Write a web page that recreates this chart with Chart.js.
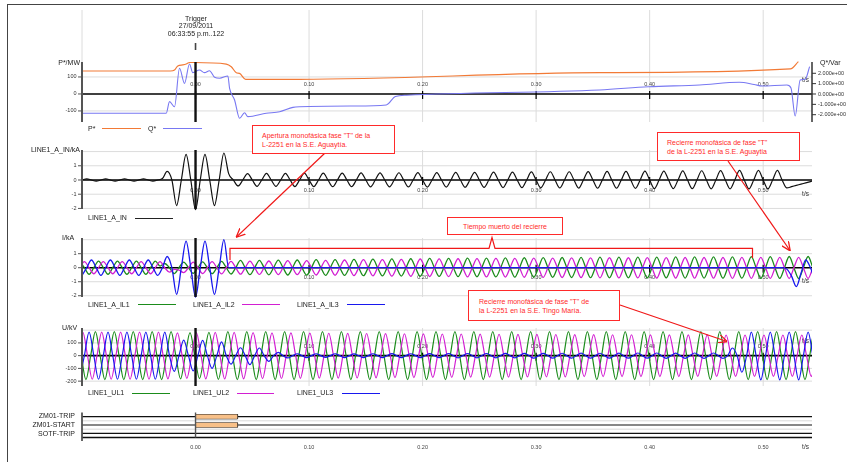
<!DOCTYPE html>
<html><head><meta charset="utf-8">
<script src="https://cdn.jsdelivr.net/npm/chart.js@4.4.1/dist/chart.umd.min.js"></script>
<style>
html,body{margin:0;padding:0;background:#fff;}
#wrap{position:relative;width:847px;height:462px;overflow:hidden;font-family:"Liberation Sans",Arial,sans-serif;background:#fff;}
#c{position:absolute;left:0;top:0;}
.t{position:absolute;white-space:nowrap;line-height:1;color:#222;}
.lg{position:absolute;height:0;}
.box{position:absolute;background:#fff;border:1px solid #ff2a2a;color:#ff2a2a;font-size:7px;line-height:9.4px;box-sizing:border-box;white-space:nowrap;}
#frame{position:absolute;left:7px;top:4px;width:900px;height:500px;border-left:1.5px solid #444;border-top:1.5px solid #444;}
svg{position:absolute;left:0;top:0;}
</style></head><body>
<div id="wrap"><div id="frame"></div><canvas id="c" width="847" height="462"></canvas>
<svg width="847" height="462" viewBox="0 0 847 462">
<defs><marker id="ah" viewBox="0 0 10 10" refX="9.5" refY="5" markerWidth="9" markerHeight="9" orient="auto" markerUnits="userSpaceOnUse"><path d="M0,0.5 L10,5 L0,9.5" fill="none" stroke="#f01818" stroke-width="1.4"/></marker></defs>
<line x1="325" y1="153" x2="236.5" y2="237" stroke="#f01818" stroke-width="1.2" marker-end="url(#ah)"/>
<line x1="728" y1="161" x2="790" y2="250.5" stroke="#f01818" stroke-width="1.2" marker-end="url(#ah)"/>
<line x1="620" y1="305" x2="727" y2="341.5" stroke="#f01818" stroke-width="1.2" marker-end="url(#ah)"/>
<polyline points="230,260 230,248.3 489,248.3 492,237.5 495,248.3 752.5,248.3 752.5,258" fill="none" stroke="#f01818" stroke-width="1.2"/>
</svg>
</div>
<script>
// ---------------- DATA ----------------
// time axis
const TIME_GRID = [-0.1, 0, 0.1, 0.2, 0.3, 0.4, 0.5];
const TIME_TICKS = [0, 0.1, 0.2, 0.3, 0.4, 0.5];
const TIME_LABELS = ['0.00','0.10','0.20','0.30','0.40','0.50'];

// P* (MW) and Q* (x1e8 Var) trend points
const P_T = [-0.1,-0.022,-0.0185,-0.0156,-0.0112,-0.0082,-0.0053,-0.0009,0.0271,0.0315,0.0359,0.0388,0.0441,0.0917,0.356,0.524,0.531];
const P_MW = [135,135,141,165,171,176,185,185,176,160,125,121,86,86,125,147,190];
const Q_T = [-0.1,-0.0258,-0.0229,-0.0185,-0.0141,-0.0097,-0.0053,-0.0024,0.0035,0.0079,0.0123,0.0168,0.0212,0.0285,0.03,0.0344,0.0388,0.0432,0.0461,0.0623,0.0741,0.0858,0.0917,0.14,0.168,0.176,0.186,0.356,0.399,0.444,0.479,0.492,0.499,0.5209,0.5245,0.5282,0.5326,0.537,0.5409];
const Q_V = [-1.86,-1.86,-0.74,-1.23,2.48,1.03,2.9,2.06,2.32,2.06,2.25,1.61,1.52,1.74,0.55,-0.58,-2.35,-1.81,-2.19,-1.86,-1.71,-1.29,-1.23,-1.16,-1.06,-0.25,-0.12,0.39,0.7,0.87,1.13,0.92,0.77,0.87,0.58,-2.13,1.35,1.42,2.64];

// waveform samples, one every quarter cycle of 60 Hz
const SAMPLE_STEP = 1/240;
const T0_A = -0.1;              // LINE1_A_IN, LINE1_A_IL3
const T0_B = -0.1 - 0.5/240;    // LINE1_A_IL1, LINE1_A_IL2, LINE1_UL3
const T0_D = -0.1 - (1/6)/240;  // LINE1_UL1
const T0_E = -0.1 - (5/6)/240;  // LINE1_UL2

const IN_KA = [0,.08,0,-.08,0,.08,0,-.08,0,.08,0,-.08,0,.08,0,-.08,
0,.1,.6,0,-1.8,0,1.8,0,-2.1,0,1.8,0,-1.8,0,1.9,.45,
0,-.42,0,.45,0,-.45,0,.47,0,-.45,0,.47,0,-.46,0,.48,
0,-.46,0,.48,0,-.47,0,.49,0,-.47,0,.5,0,-.48,0,.5,
0,-.48,0,.51,0,-.49,0,.52,0,-.5,0,.52,0,-.5,0,.53,
0,-.51,0,.54,0,-.52,0,.55,0,-.53,0,.56,0,-.54,0,.57,
0,-.55,0,.58,0,-.56,0,.58,0,-.57,0,.59,0,-.58,0,.6,
0,-.58,0,.61,0,-.59,0,.62,0,-.6,0,.63,0,-.6,0,.64,
0,-.61,0,.65,0,-.62,0,.66,0,-.62,0,.67,0,-.63,0,.68,
0,-.63,0,.68,0,-.56,-.47,-.38,-.29,-.2,-.11,-.02,.05];

const IL1_KA = [.47,0,-.47,0,.47,0,-.47,0,.47,0,-.47,0,.47,0,-.47,0,
.47,.12,.3,0,-.42,0,.4,0,-.4,0,.42,0,-.42,0,.45,0,
-.45,0,.52,0,-.5,0,.53,0,-.51,0,.54,0,-.52,0,.55,0,
-.53,0,.57,0,-.54,0,.58,0,-.55,0,.6,0,-.57,0,.61,0,
-.58,0,.63,0,-.6,0,.64,0,-.61,0,.66,0,-.62,0,.67,0,
-.64,0,.68,0,-.65,0,.69,0,-.66,0,.7,0,-.67,0,.71,0,
-.68,0,.72,0,-.69,0,.73,0,-.7,0,.74,0,-.71,0,.75,0,
-.72,0,.75,0,-.72,0,.76,0,-.73,0,.76,0,-.73,0,.77,0,
-.74,0,.77,0,-.74,0,.78,0,-.75,0,.78,0,-.75,0,.79,0,
-.76,0,.79,0,-.76,0,.8,0,-.77,0,.8,0,-.77,0];

const IL2_KA = [0,.43,0,-.43,0,.43,0,-.43,0,.43,0,-.43,0,.43,0,-.43,
0,.43,0,-.32,-.12,-.18,-.35,0,.4,0,-.42,0,.43,0,-.44,0,
.45,0,-.46,0,.47,0,-.48,0,.48,0,-.49,0,.5,0,-.5,0,
.51,0,-.52,0,.53,0,-.54,0,.55,0,-.56,0,.57,0,-.58,0,
.58,0,-.6,0,.6,0,-.61,0,.62,0,-.63,0,.63,0,-.64,0,
.64,0,-.65,0,.65,0,-.66,0,.66,0,-.67,0,.67,0,-.68,0,
.68,0,-.69,0,.69,0,-.7,0,.7,0,-.71,0,.7,0,-.72,0,
.71,0,-.73,0,.71,0,-.73,0,.72,0,-.74,0,.72,0,-.74,0,
.73,0,-.75,0,.73,0,-.75,0,.73,0,-.76,0,.74,0,-.76,0,
.74,0,-.76,0,.74,0,-.77,0,.74,0,-.77,0,.74,0];

const IL3_KA = [-.55,0,.55,0,-.55,0,.55,0,-.55,0,.55,0,-.55,0,.55,0,
-.55,0,.8,0,-1.9,0,1.9,0,-2.1,0,1.9,0,-1.9,0,2,0,
0,0,0,0,0,0,0,0,0,0,0,0,0,0,0,0,
0,0,0,0,0,0,0,0,0,0,0,0,0,0,0,0,
0,0,0,0,0,0,0,0,0,0,0,0,0,0,0,0,
0,0,0,0,0,0,0,0,0,0,0,0,0,0,0,0,
0,0,0,0,0,0,0,0,0,0,0,0,0,0,0,0,
0,0,0,0,0,0,0,0,0,0,0,0,0,0,0,0,
0,0,0,0,0,0,0,0,0,0,0,0,0,0,0,0,
0,0,0,0,0,-.1,-.6,-1.35,-.4,.55,0,-.8,-.6];

const UL1_KV = [0,-188,0,188,0,-188,0,188,0,-188,0,188,0,-188,0,188,
0,-188,0,188,0,-182,0,180,0,-180,0,182,0,-186,0,188,
0,-188,0,188,0,-188,0,188,0,-188,0,188,0,-188,0,188,
0,-188,0,188,0,-188,0,188,0,-188,0,188,0,-188,0,188,
0,-188,0,188,0,-188,0,188,0,-188,0,188,0,-188,0,188,
0,-188,0,188,0,-188,0,188,0,-188,0,188,0,-188,0,188,
0,-188,0,188,0,-188,0,188,0,-188,0,188,0,-188,0,188,
0,-188,0,188,0,-188,0,188,0,-188,0,188,0,-188,0,188,
0,-188,0,188,0,-188,0,188,0,-188,0,188,0,-188,0,188,
0,-188,0,188,0,-188,0,188,0,-188,0,188,0,-188];

const UL2_KV = [0,185,0,-185,0,185,0,-185,0,185,0,-185,0,185,0,-185,
0,185,0,-182,0,178,0,-178,0,180,0,-182,0,183,0,-183,
0,182,0,-182,0,180,0,-180,0,179,0,-179,0,178,0,-178,
0,177,0,-177,0,176,0,-176,0,175,0,-175,0,174,0,-174,
0,173,0,-173,0,172,0,-172,0,171,0,-171,0,170,0,-170,
0,170,0,-169,0,169,0,-168,0,168,0,-168,0,167,0,-167,
0,167,0,-166,0,166,0,-166,0,165,0,-165,0,165,0,-165,
0,164,0,-164,0,164,0,-164,0,163,0,-164,0,163,0,-164,
0,163,0,-163,0,163,0,-163,0,162,0,-163,0,162,0,-163,
0,162,0,-163,0,162,0,-163,0,162,0,-163,0,162];

const UL3_KV = [-185,0,185,0,-185,0,185,0,-185,0,185,0,-185,0,185,0,
-185,0,185,0,-124,0,122,0,-120,0,120,0,-100,0,108,0,
-67,0,62,0,-70,0,60,0,-45,0,25,0,-18,0,15,0,
-15,0,15,0,-14,0,15,0,-15,0,14,0,-15,0,15,0,
-15,0,16,0,-16,0,15,0,-16,0,16,0,-16,0,17,0,
-17,0,17,0,-18,0,17,0,-18,0,18,0,-18,0,18,0,
-19,0,18,0,-19,0,19,0,-19,0,20,0,-20,0,19,0,
-20,0,20,0,-20,0,21,0,-20,0,21,0,-21,0,20,0,
-21,0,21,0,-22,0,21,0,-22,0,60,0,-130,0,185,0,
-190,0,185,0,-190,0,185,0,-190,0,185,0,-190,0];

// digital channels
const DIG_NAMES = ['ZM01-TRIP','ZM01-START','SOTF-TRIP'];
const DIG_LEVELS = [3, 2, 1];
const DIG_ON = [[0, 0.037], [0, 0.037], null];

// axis ticks
const P_TICKS = [100, 0, -100];
const Q_TICKS = [2, 1, 0, -1, -2];
const Q_TICK_LABELS = ['2.000e+00','1.000e+00','0.000e+00','-1.000e+00','-2.000e+00'];
const IN_TICKS = [1, 0, -1, -2];
const I_TICKS = [1, 0, -1, -2];
const U_TICKS = [100, 0, -100, -200];

// ---------------- LAYOUT ----------------
const AREA = {left:82, right:812, top:10, bottom:440};
const BANDS = {
  yP: {top:62, bottom:122, vTop:188, vBottom:-165},
  yQ: {top:62, bottom:122, vTop:3.09, vBottom:-2.705},
  yIN:{top:150, bottom:209, vTop:2.11, vBottom:-2.04},
  yI: {top:238, bottom:297, vTop:2.12, vBottom:-2.09},
  yU: {top:328, bottom:386, vTop:217, vBottom:-238},
  yD: {top:412.5, bottom:437.5, vTop:3.5, vBottom:0.5}
};
const BAR_HALF = 0.26;
const PANELS = [
  {axis:'yP', gridTop:10, grid:[100,-100], ticks:P_TICKS, labelY:84, tsY:80},
  {axis:'yIN', grid:[2,1,-1,-2], ticks:IN_TICKS, labelY:190, tsY:194},
  {axis:'yI', grid:[2,1,-1,-2], ticks:I_TICKS, labelY:277.5, tsY:281},
  {axis:'yU', grid:[200,100,-100,-200], ticks:U_TICKS, labelY:346, tsY:341.5}
];

const COL = {P:'#f27a36', Q:'#7878f2', IN:'#111', G:'#1b8c1b', M:'#d21fd2', B:'#1818ee'};

function bandRange(b){
  const k = (b.vTop - b.vBottom) / (b.bottom - b.top);
  return {min: b.vBottom - (AREA.bottom - b.bottom) * k, max: b.vTop + (b.top - AREA.top) * k};
}
function clipFor(id){
  const b = BANDS[id], m = 1.5;
  return {left:0, right:0, top: -(b.top - m - AREA.top), bottom: -(AREA.bottom - b.bottom - m)};
}
const pairs = (ts, vs) => ts.map((t, i) => ({x:t, y:vs[i]}));
const samples = (t0, vs) => vs.map((v, i) => ({x:t0 + i * SAMPLE_STEP, y:v}));

function lineDs(label, data, axis, color, order, width){
  return {type:'line', label, data, xAxisID:'x', yAxisID:axis, borderColor:color, borderWidth:width||1.2,
    pointRadius:0, fill:false, cubicInterpolationMode:'monotone', order, clip:clipFor(axis)};
}

const datasets = [
  lineDs('P*', pairs(P_T, P_MW), 'yP', COL.P, 2, 1.2),
  lineDs('Q*', pairs(Q_T, Q_V), 'yQ', COL.Q, 1, 1.1),
  lineDs('LINE1_A_IN', samples(T0_A, IN_KA), 'yIN', COL.IN, 1, 1.2),
  lineDs('LINE1_A_IL1', samples(T0_B, IL1_KA), 'yI', COL.G, 3, 1.3),
  lineDs('LINE1_A_IL2', samples(T0_B, IL2_KA), 'yI', COL.M, 2, 1.3),
  lineDs('LINE1_A_IL3', samples(T0_A, IL3_KA), 'yI', COL.B, 1, 1.3),
  lineDs('LINE1_UL1', samples(T0_D, UL1_KV), 'yU', COL.G, 3, 1.2),
  lineDs('LINE1_UL2', samples(T0_E, UL2_KV), 'yU', COL.M, 2, 1.2),
  lineDs('LINE1_UL3', samples(T0_B, UL3_KV), 'yU', COL.B, 1, 1.2)
];
// digital "on" bars: filled band between an upper and lower edge, plus outline
DIG_NAMES.forEach((n, i) => {
  const on = DIG_ON[i]; if (!on) return;
  const lv = DIG_LEVELS[i], hi = lv + BAR_HALF, lo = lv - BAR_HALF;
  const base = {type:'line', xAxisID:'x', yAxisID:'yD', pointRadius:0, tension:0, order:0, clip:clipFor('yD')};
  datasets.push(Object.assign({label:n + ' hi', data:[{x:on[0], y:hi}, {x:on[1], y:hi}], borderWidth:0, borderColor:'rgba(0,0,0,0)', fill:false}, base));
  datasets.push(Object.assign({label:n + ' lo', data:[{x:on[0], y:lo}, {x:on[1], y:lo}], borderWidth:0, borderColor:'rgba(0,0,0,0)', fill:'-1', backgroundColor:'#f8c088'}, base));
  datasets.push(Object.assign({label:n, data:[{x:on[0], y:lo}, {x:on[0], y:hi}, {x:on[1], y:hi}, {x:on[1], y:lo}, {x:on[0], y:lo}], borderWidth:1, borderColor:'#222', fill:false}, base));
});

const scales = {x:{type:'linear', min:-0.1, max:0.543, display:false, bounds:'data'}};
for (const id in BANDS){
  const r = bandRange(BANDS[id]);
  scales[id] = {type:'linear', axis:'y', position:'left', min:r.min, max:r.max, display:false, bounds:'data', offset:false};
}

function seg(ctx, x1, y1, x2, y2){ ctx.beginPath(); ctx.moveTo(x1, y1); ctx.lineTo(x2, y2); ctx.stroke(); }
const FONT = '"Liberation Sans", Arial, sans-serif';

const decor = {
  id:'decor',
  beforeDatasetsDraw(chart){
    const ctx = chart.ctx, X = chart.scales.x;
    ctx.save();
    PANELS.forEach(p => {
      const Y = chart.scales[p.axis], b = BANDS[p.axis];
      ctx.strokeStyle = '#dcdcdc'; ctx.lineWidth = 1;
      p.grid.forEach(v => { const y = Y.getPixelForValue(v); seg(ctx, AREA.left, y, AREA.right, y); });
      TIME_GRID.forEach(t => {
        const x = X.getPixelForValue(t);
        const top = (t === 0) ? b.top : (p.gridTop != null ? p.gridTop : b.top);
        seg(ctx, x, top, x, b.bottom);
      });
      const z = Y.getPixelForValue(0);
      ctx.strokeStyle = '#000'; ctx.lineWidth = 1.6; seg(ctx, AREA.left, z, AREA.right, z);
      ctx.lineWidth = 1.2;
      TIME_TICKS.forEach(t => { const x = X.getPixelForValue(t); seg(ctx, x, z - 3, x, z + 5); });
      ctx.fillStyle = '#444'; ctx.font = '5.5px ' + FONT; ctx.textAlign = 'center'; ctx.textBaseline = 'middle';
      TIME_TICKS.forEach((t, i) => ctx.fillText(TIME_LABELS[i], X.getPixelForValue(t), p.labelY));
      ctx.fillStyle = '#333'; ctx.font = '6.5px ' + FONT; ctx.fillText('t/s', 805.5, p.tsY);
    });
    // digital panel
    const D = chart.scales.yD;
    ctx.strokeStyle = '#d8d8d8'; ctx.lineWidth = 1;
    [2.5, 1.5].forEach(v => { const y = D.getPixelForValue(v); seg(ctx, AREA.left, y, AREA.right, y); });
    ctx.strokeStyle = '#111'; ctx.lineWidth = 1.1;
    DIG_LEVELS.forEach(v => { const y = D.getPixelForValue(v); seg(ctx, AREA.left, y, AREA.right, y); });
    const yb = D.getPixelForValue(0.5);
    ctx.lineWidth = 1.4; seg(ctx, AREA.left, yb, AREA.right, yb);
    ctx.fillStyle = '#444'; ctx.font = '5.5px ' + FONT; ctx.textAlign = 'center'; ctx.textBaseline = 'middle';
    TIME_TICKS.forEach((t, i) => ctx.fillText(TIME_LABELS[i], X.getPixelForValue(t), 447));
    ctx.fillStyle = '#333'; ctx.font = '6.5px ' + FONT; ctx.fillText('t/s', 805.5, 447);
    ctx.restore();
  },
  afterDatasetsDraw(chart){
    const ctx = chart.ctx, X = chart.scales.x;
    ctx.save();
    const x0 = X.getPixelForValue(0);
    PANELS.forEach(p => {
      const Y = chart.scales[p.axis], b = BANDS[p.axis];
      ctx.strokeStyle = '#555'; ctx.lineWidth = 2;
      seg(ctx, AREA.left, b.top, AREA.left, b.bottom);
      ctx.lineWidth = 1;
      ctx.fillStyle = '#333'; ctx.font = '5.5px ' + FONT; ctx.textAlign = 'right'; ctx.textBaseline = 'middle';
      p.ticks.forEach(v => {
        const y = Y.getPixelForValue(v);
        seg(ctx, AREA.left - 4, y, AREA.left, y);
        ctx.fillText(String(v), AREA.left - 5.5, y);
      });
      ctx.strokeStyle = '#111'; ctx.lineWidth = 2.4;
      seg(ctx, x0, b.top, x0, b.bottom);
    });
    // trigger mark under header
    ctx.strokeStyle = '#444'; ctx.lineWidth = 1.6; seg(ctx, x0, 43, x0, 50);
    // right Q axis
    const Q = chart.scales.yQ, bq = BANDS.yQ;
    ctx.strokeStyle = '#333'; ctx.lineWidth = 1.5; seg(ctx, AREA.right, bq.top, AREA.right, bq.bottom);
    ctx.lineWidth = 1; ctx.fillStyle = '#333'; ctx.font = '5.5px ' + FONT; ctx.textAlign = 'left'; ctx.textBaseline = 'middle';
    Q_TICKS.forEach((v, i) => {
      const y = Q.getPixelForValue(v);
      seg(ctx, AREA.right, y, AREA.right + 4, y);
      ctx.fillText(Q_TICK_LABELS[i], AREA.right + 6, y);
    });
    // digital panel axis + trigger
    const bd = BANDS.yD;
    ctx.strokeStyle = '#555'; ctx.lineWidth = 1.8; seg(ctx, AREA.left, bd.top, AREA.left, bd.bottom + 3.5);
    ctx.lineWidth = 1.4; seg(ctx, x0, bd.top, x0, bd.bottom);
    ctx.restore();
  }
};

new Chart(document.getElementById('c'), {
  type:'line',
  data:{datasets},
  options:{
    responsive:false, maintainAspectRatio:false, animation:false, events:[],
    layout:{padding:{left:AREA.left, right:847 - AREA.right, top:AREA.top, bottom:462 - AREA.bottom}},
    plugins:{legend:{display:false}, tooltip:{enabled:false}, filler:{propagate:false}},
    scales
  },
  plugins:[decor]
});

// ---------------- HTML TEXT ----------------
const wrap = document.getElementById('wrap');
function txt(s, x, y, size, align, color){
  const d = document.createElement('div');
  d.className = 't'; d.textContent = s; d.style.fontSize = size + 'px';
  if (color) d.style.color = color;
  d.style.top = (y - size * 0.55) + 'px';
  if (align === 'right') d.style.right = (847 - x) + 'px';
  else if (align === 'center') { d.style.left = x + 'px'; d.style.transform = 'translateX(-50%)'; }
  else d.style.left = x + 'px';
  wrap.appendChild(d);
}
function lgLine(x1, x2, y, color){
  const d = document.createElement('div');
  d.className = 'lg'; d.style.left = x1 + 'px'; d.style.top = (y - 0.6) + 'px'; d.style.width = (x2 - x1) + 'px';
  d.style.borderTop = '1.3px solid ' + color; wrap.appendChild(d);
}
function box(lines, x, y, w, h, pl, pt, center){
  const d = document.createElement('div');
  d.className = 'box'; d.style.left = x + 'px'; d.style.top = y + 'px'; d.style.width = w + 'px'; d.style.height = h + 'px';
  d.style.paddingLeft = pl + 'px'; d.style.paddingTop = pt + 'px';
  if (center) d.style.textAlign = 'center';
  lines.forEach((l, i) => { if (i) d.appendChild(document.createElement('br')); d.appendChild(document.createTextNode(l)); });
  wrap.appendChild(d);
}

txt('Trigger', 196, 18.5, 7, 'center');
txt('27/09/2011', 196, 26.3, 7, 'center');
txt('06:33:55 p.m..122', 196, 34, 7, 'center');

txt('P*/MW', 80, 62.5, 7, 'right');
txt('Q*/Var', 820, 63, 7, 'left');
txt('LINE1_A_IN/kA', 80, 150, 7, 'right');
txt('I/kA', 62, 238, 7, 'left');
txt('U/kV', 62, 328, 7, 'left');

txt('P*', 88, 128.7, 7, 'left'); lgLine(102, 141, 128.7, COL.P);
txt('Q*', 148, 128.7, 7, 'left'); lgLine(163, 202, 128.7, COL.Q);
txt('LINE1_A_IN', 88, 218.3, 7, 'left'); lgLine(135, 173, 218.3, '#222');
txt('LINE1_A_IL1', 88, 305, 7, 'left'); lgLine(138, 176, 305, COL.G);
txt('LINE1_A_IL2', 193, 305, 7, 'left'); lgLine(242, 280, 305, COL.M);
txt('LINE1_A_IL3', 297, 305, 7, 'left'); lgLine(347, 385, 305, COL.B);
txt('LINE1_UL1', 88, 393.3, 7, 'left'); lgLine(132, 170, 393.3, COL.G);
txt('LINE1_UL2', 193, 393.3, 7, 'left'); lgLine(237, 274, 393.3, COL.M);
txt('LINE1_UL3', 297, 393.3, 7, 'left'); lgLine(342, 380, 393.3, COL.B);

DIG_NAMES.forEach((n, i) => txt(n, 75, [416.2, 425, 433.4][i], 7, 'right'));

box(['Apertura monofásica fase "T" de la', 'L-2251 en la S.E. Aguaytía.'], 252, 125, 143, 28.5, 9, 4.5);
box(['Recierre monofásica de fase "T"', 'de la L-2251 en la S.E. Aguaytia'], 657, 132, 143, 29, 9, 4.5);
box(['Tiempo muerto del recierre'], 447, 217, 116, 18, 0, 3.5, true);
box(['Recierre monofásica de fase "T" de', 'la L-2251 en la S.E. Tingo María.'], 468, 290, 152, 31, 10, 5.5);
</script>
</body></html>
